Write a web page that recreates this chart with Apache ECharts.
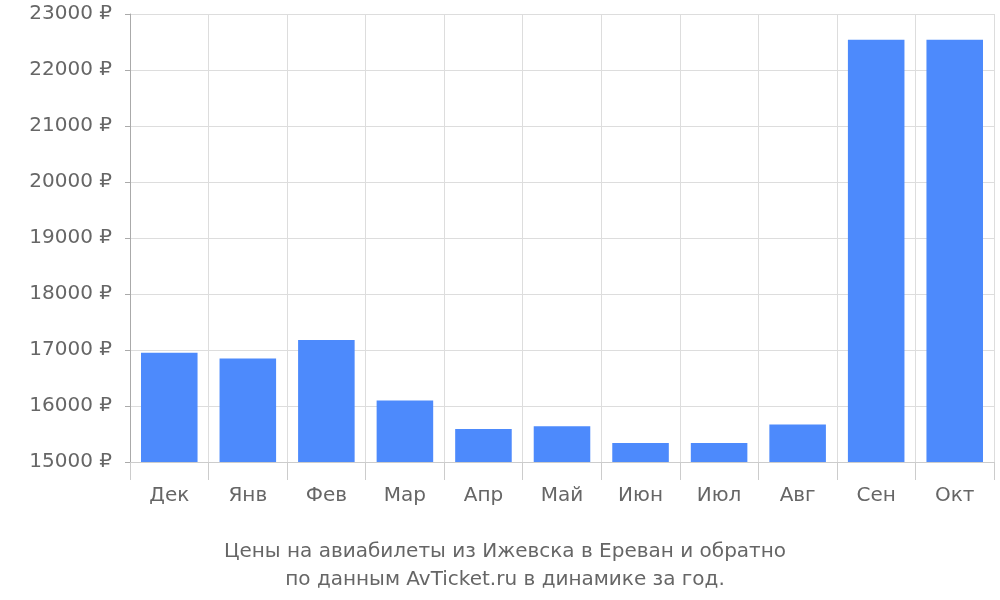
<!DOCTYPE html>
<html><head><meta charset="utf-8">
<script src="https://cdn.jsdelivr.net/npm/echarts@6/dist/echarts.min.js"></script>
<style>html,body{margin:0;padding:0}#c{width:1000px;height:600px}</style>
</head><body><div id="c"></div>
<script>
const categories = ['Дек','Янв','Фев','Мар','Апр','Май','Июн','Июл','Авг','Сен','Окт'];
const prices = [16950,16850,17180,16100,15590,15640,15340,15340,15670,22540,22540];
const titleLines = ['Цены на авиабилеты из Ижевска в Ереван и обратно','по данным AvTicket.ru в динамике за год.'];
const chart = echarts.init(document.getElementById('c'));
chart.setOption({
  animation:false,
  textStyle:{fontFamily:'DejaVu Sans'},
  title:{text:titleLines.join('\n'),left:500,textAlign:'center',top:533,
    textStyle:{fontSize:20,fontWeight:'normal',color:'#666',lineHeight:28,fontFamily:'DejaVu Sans'}},
  grid:{left:130,right:6,top:14,bottom:138},
  xAxis:{type:'category',data:categories,
    axisLine:{show:true,lineStyle:{color:'#ccc'}},
    axisTick:{show:true,length:18,lineStyle:{color:'#ccc'}},
    splitLine:{show:true,lineStyle:{color:'#ddd'}},
    axisLabel:{fontSize:20,color:'#666',margin:24}},
  yAxis:{type:'value',min:15000,max:23000,interval:1000,
    axisLine:{show:true,lineStyle:{color:'#aaa'}},
    axisTick:{show:true,length:5,lineStyle:{color:'#aaa'}},
    splitLine:{lineStyle:{color:'#ddd'}},
    axisLabel:{fontSize:20,color:'#666',margin:18,formatter:v=>v+' ₽'}},
  series:[{type:'bar',data:prices,barCategoryGap:'28%',itemStyle:{color:'#4d8afc'}}]
});
</script></body></html>
